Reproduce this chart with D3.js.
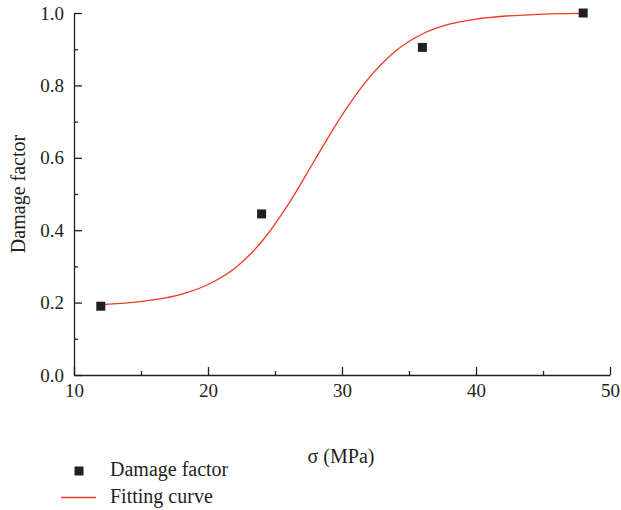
<!DOCTYPE html>
<html>
<head>
  <meta charset="utf-8">
  <script src="https://d3js.org/d3.v7.min.js"></script>
  <style>
    body { margin: 0; background: #fff; }
    svg { display: block; }
    .axis path, .axis line { stroke: #231f20; stroke-width: 1.3px; }
    .axis text { font-family: "Liberation Serif", "DejaVu Serif", serif; font-size: 19px; fill: #231f20; }
    .label { font-family: "Liberation Serif", "DejaVu Serif", serif; font-size: 20px; fill: #231f20; }
  </style>
</head>
<body>
<div id="chart"></div>
<script>
  // measured points
  var sigma = [12, 24, 36, 48];
  var damage = [0.19, 0.445, 0.905, 1.0];

  // fitting curve
  var fitX = [12, 14, 16, 18, 20, 22, 24, 26, 28, 30, 32, 34, 36, 38, 40, 42, 44, 46, 48];
  var fitY = [0.194, 0.199, 0.208, 0.223, 0.250, 0.295, 0.368, 0.472, 0.596, 0.718, 0.820, 0.895, 0.942, 0.969, 0.983, 0.991, 0.995, 0.998, 0.999];

  var xTicks = [10, 20, 30, 40, 50];
  var xMinor = [15, 25, 35, 45];
  var yTicks = [0.0, 0.2, 0.4, 0.6, 0.8, 1.0];
  var yMinor = [0.1, 0.3, 0.5, 0.7, 0.9];

  var width = 621, height = 510;
  var mLeft = 74, mRight = 610, mTop = 13, mBottom = 375;

  var svg = d3.select("#chart").append("svg")
    .attr("width", width)
    .attr("height", height);

  var x = d3.scaleLinear().domain([10, 50]).range([mLeft, mRight]);
  var y = d3.scaleLinear().domain([0, 1]).range([mBottom, mTop]);

  // minor ticks first
  svg.append("g").attr("class", "axis")
    .attr("transform", "translate(0," + mBottom + ")")
    .call(d3.axisBottom(x).tickValues(xMinor).tickSize(-4).tickFormat(""))
    .select(".domain").remove();
  svg.append("g").attr("class", "axis")
    .attr("transform", "translate(" + mLeft + ",0)")
    .call(d3.axisLeft(y).tickValues(yMinor).tickSize(-4).tickFormat(""))
    .select(".domain").remove();

  // major ticks
  var gx = svg.append("g").attr("class", "axis")
    .attr("transform", "translate(0," + mBottom + ")")
    .call(d3.axisBottom(x).tickValues(xTicks).tickSizeInner(-8).tickSizeOuter(0).tickFormat(d3.format("d")));
  gx.selectAll("text").attr("y", 9).attr("dy", "0.71em");

  var gy = svg.append("g").attr("class", "axis")
    .attr("transform", "translate(" + mLeft + ",0)")
    .call(d3.axisLeft(y).tickValues(yTicks).tickSizeInner(-8).tickSizeOuter(0).tickFormat(d3.format(".1f")));
  gy.selectAll("text").attr("x", -10);

  // axis titles
  svg.append("text").attr("class", "label")
    .attr("x", 341).attr("y", 463)
    .attr("text-anchor", "middle")
    .text("σ (MPa)");

  svg.append("text").attr("class", "label")
    .attr("transform", "translate(25," + ((mTop + mBottom) / 2) + ") rotate(-90)")
    .attr("text-anchor", "middle")
    .text("Damage factor");

  // fitting curve
  var line = d3.line()
    .x(function(d, i) { return x(fitX[i]); })
    .y(function(d) { return y(d); })
    .curve(d3.curveMonotoneX);

  svg.append("path")
    .datum(fitY)
    .attr("d", line)
    .attr("fill", "none")
    .attr("stroke", "#ee3a24")
    .attr("stroke-width", 1.3);

  // data points
  var sq = 9;
  svg.selectAll(".pt")
    .data(damage)
    .enter()
    .append("rect")
    .attr("class", "pt")
    .attr("x", function(d, i) { return x(sigma[i]) - sq / 2; })
    .attr("y", function(d) { return y(d) - sq / 2; })
    .attr("width", sq)
    .attr("height", sq)
    .attr("fill", "#231f20");

  // legend
  svg.append("rect")
    .attr("x", 79 - 4.5).attr("y", 471 - 4.5)
    .attr("width", sq).attr("height", sq)
    .attr("fill", "#231f20");
  svg.append("text").attr("class", "label")
    .attr("x", 110).attr("y", 476)
    .text("Damage factor");

  svg.append("line")
    .attr("x1", 61).attr("x2", 96)
    .attr("y1", 497.5).attr("y2", 497.5)
    .attr("stroke", "#ee3a24")
    .attr("stroke-width", 1.3);
  svg.append("text").attr("class", "label")
    .attr("x", 110).attr("y", 503)
    .text("Fitting curve");
</script>
</body>
</html>
